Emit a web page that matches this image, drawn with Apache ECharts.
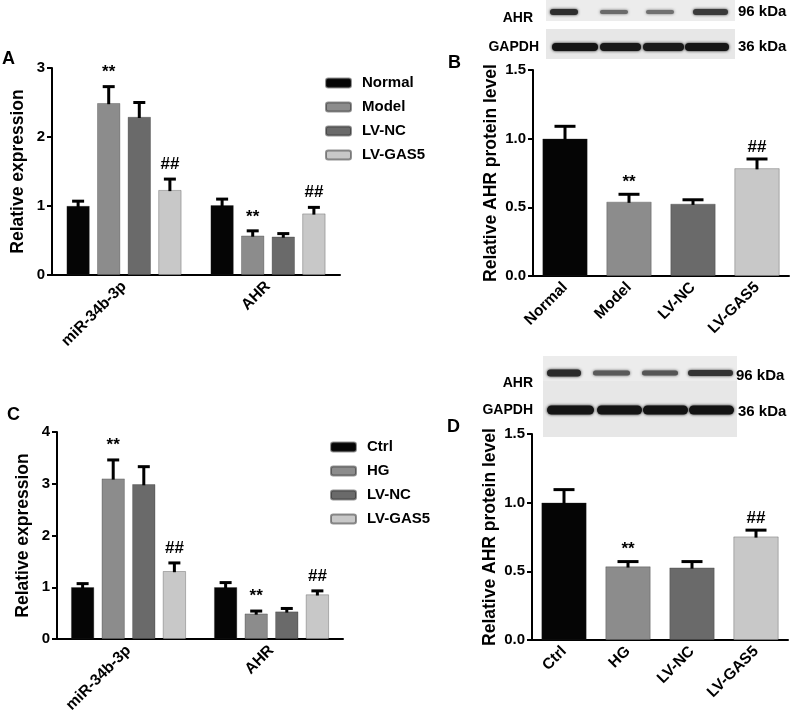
<!DOCTYPE html>
<html>
<head>
<meta charset="utf-8">
<script src="https://cdn.jsdelivr.net/npm/echarts@6/dist/echarts.min.js"></script>
<style>html,body{margin:0;padding:0;background:#fff;}#c{width:800px;height:717px;}</style>
</head>
<body>
<div id="c"></div>
<script>
// ---------- DATA ----------
const groupCats = ['miR-34b-3p', 'AHR'];

// Panel A
const aNames = ['Normal', 'Model', 'LV-NC', 'LV-GAS5'];
const aNormal = [1.00, 1.01];
const aModel = [2.49, 0.57];
const aLVNC = [2.29, 0.555];
const aLVGAS5 = [1.23, 0.89];
const aNormalSD = [0.07, 0.09];
const aModelSD = [0.24, 0.07];
const aLVNCSD = [0.21, 0.045];
const aLVGAS5SD = [0.16, 0.09];
const aModelMarks = ['**', '**'];
const aLVGAS5Marks = ['##', '##'];
const aTicks = [0, 1, 2, 3];

// Panel B
const bCats = ['Normal', 'Model', 'LV-NC', 'LV-GAS5'];
const bMean = [1.00, 0.54, 0.525, 0.784];
const bSD = [0.09, 0.055, 0.03, 0.068];
const bMarks = ['', '**', '', '##'];
const bTicks = [0.0, 0.5, 1.0, 1.5];

// Panel C
const cNames = ['Ctrl', 'HG', 'LV-NC', 'LV-GAS5'];
const cCtrl = [1.00, 1.00];
const cHG = [3.10, 0.49];
const cLVNC = [2.99, 0.53];
const cLVGAS5 = [1.31, 0.86];
const cCtrlSD = [0.07, 0.09];
const cHGSD = [0.36, 0.05];
const cLVNCSD = [0.34, 0.06];
const cLVGAS5SD = [0.16, 0.07];
const cHGMarks = ['**', '**'];
const cLVGAS5Marks = ['##', '##'];
const cTicks = [0, 1, 2, 3, 4];

// Panel D
const dCats = ['Ctrl', 'HG', 'LV-NC', 'LV-GAS5'];
const dMean = [1.00, 0.535, 0.527, 0.753];
const dSD = [0.095, 0.036, 0.044, 0.047];
const dMarks = ['', '**', '', '##'];
const dTicks = [0.0, 0.5, 1.0, 1.5];

// ---------- STYLE ----------
const FONT = '"Liberation Sans", Arial, Helvetica, sans-serif';
const barColors = ['#050505', '#8c8c8c', '#6a6a6a', '#c8c8c8'];

const chart = echarts.init(document.getElementById('c'), null, {renderer: 'canvas'});

function xAxisCfg(gridIndex, data) {
  return {
    type: 'category', gridIndex, data,
    axisLine: {lineStyle: {color: '#000', width: 2}},
    axisTick: {alignWithLabel: true, length: 5, lineStyle: {color: '#000', width: 2}},
    axisLabel: {rotate: 45, interval: 0, color: '#000', fontWeight: 'bold', fontSize: 15.5, fontFamily: FONT, margin: 9}
  };
}
function yAxisCfg(gridIndex, ticks, name, nameGap, decimals) {
  return {
    type: 'value', gridIndex,
    min: ticks[0], max: ticks[ticks.length - 1], interval: ticks[1] - ticks[0],
    name, nameLocation: 'middle', nameGap, nameRotate: 90,
    nameTextStyle: {color: '#000', fontWeight: 'bold', fontSize: 17.5, fontFamily: FONT},
    axisLine: {show: true, lineStyle: {color: '#000', width: 2}},
    axisTick: {show: true, length: 5, lineStyle: {color: '#000', width: 2}},
    splitLine: {show: false},
    axisLabel: {color: '#000', fontWeight: 'bold', fontSize: 15, fontFamily: FONT, margin: 7,
      formatter: v => v.toFixed(decimals)}
  };
}

function groupedErr(axisIdx, means, sds, marks, idx, barW, step, capW, markGap) {
  return {
    type: 'custom', xAxisIndex: axisIdx, yAxisIndex: axisIdx, z: 5, silent: true,
    data: means.map((m, i) => [i, m, sds[i]]),
    renderItem: function (params, api) {
      const cat = api.value(0), m = api.value(1), sd = api.value(2);
      const p0 = api.coord([cat, m]);
      const p1 = api.coord([cat, m + sd]);
      const x = p0[0] + (idx - 1.5) * step;
      const children = [
        {type: 'line', shape: {x1: x, y1: p0[1] + 1, x2: x, y2: p1[1]}, style: {stroke: '#000', lineWidth: 3}},
        {type: 'line', shape: {x1: x - capW / 2, y1: p1[1], x2: x + capW / 2, y2: p1[1]}, style: {stroke: '#000', lineWidth: 3}}
      ];
      const mk = marks ? marks[params.dataIndex] : '';
      if (mk) {
        children.push({type: 'text', x: x, y: p1[1] - markGap,
          style: {text: mk, fill: '#000', font: 'bold 17px ' + FONT, align: 'center', verticalAlign: 'middle'}});
      }
      return {type: 'group', children};
    }
  };
}
function singleErr(axisIdx, means, sds, marks, capW, markGap) {
  return {
    type: 'custom', xAxisIndex: axisIdx, yAxisIndex: axisIdx, z: 5, silent: true,
    data: means.map((m, i) => [i, m, sds[i]]),
    renderItem: function (params, api) {
      const cat = api.value(0), m = api.value(1), sd = api.value(2);
      const p0 = api.coord([cat, m]);
      const p1 = api.coord([cat, m + sd]);
      const x = p0[0];
      const children = [
        {type: 'line', shape: {x1: x, y1: p0[1] + 1, x2: x, y2: p1[1]}, style: {stroke: '#000', lineWidth: 3}},
        {type: 'line', shape: {x1: x - capW / 2, y1: p1[1], x2: x + capW / 2, y2: p1[1]}, style: {stroke: '#000', lineWidth: 3}}
      ];
      const mk = marks[params.dataIndex];
      if (mk) {
        children.push({type: 'text', x: x, y: p1[1] - markGap,
          style: {text: mk, fill: '#000', font: 'bold 17px ' + FONT, align: 'center', verticalAlign: 'middle'}});
      }
      return {type: 'group', children};
    }
  };
}

const GB = 23, GGAP = '33%', GSTEP = 23 * 1.33;
function gBar(axisIdx, name, data, ci) {
  return {type: 'bar', name, xAxisIndex: axisIdx, yAxisIndex: axisIdx, data,
    barWidth: GB, barGap: GGAP, itemStyle: {color: barColors[ci], borderColor: 'rgba(40,40,40,0.5)', borderWidth: 0.6}};
}
function sBar(axisIdx, data) {
  return {type: 'bar', xAxisIndex: axisIdx, yAxisIndex: axisIdx, barWidth: 45,
    data: data.map((v, i) => ({value: v, itemStyle: {color: barColors[i], borderColor: 'rgba(40,40,40,0.5)', borderWidth: 0.6}}))};
}

// ---------- blot decorations ----------
function blot(x0, x1, yA0, yA1, yG0, yG1, ahrBands, gBands, ahrY, gY) {
  const els = [];
  els.push({type: 'rect', shape: {x: x0, y: yA0, width: x1 - x0, height: yA1 - yA0}, style: {fill: '#ececec'}, z: 0});
  els.push({type: 'rect', shape: {x: x0, y: yG0, width: x1 - x0, height: yG1 - yG0}, style: {fill: '#e7e7e7'}, z: 0});
  ahrBands.forEach(b => els.push({type: 'rect', shape: {x: b[0], y: ahrY - b[2] / 2, width: b[1] - b[0], height: b[2], r: b[2] / 2},
    style: {fill: b[3], shadowBlur: 3, shadowColor: b[3]}, z: 1}));
  gBands.forEach(b => els.push({type: 'rect', shape: {x: b[0], y: gY - b[2] / 2, width: b[1] - b[0], height: b[2], r: b[2] / 2},
    style: {fill: b[3], shadowBlur: 3, shadowColor: b[3]}, z: 1}));
  return els;
}
function txt(x, y, s, size, align) {
  return {type: 'text', x, y, z: 3, style: {text: s, fill: '#000', font: 'bold ' + size + 'px ' + FONT, align: align || 'left', verticalAlign: 'middle'}};
}

const graphics = [].concat(
  blot(546, 735, 0, 21, 29, 59,
    [[550, 578, 6, '#2e2e2e'], [600, 628, 4, '#6a6a6a'], [646, 674, 4, '#707070'], [693, 728, 6, '#3a3a3a']],
    [[552, 598, 8, '#151515'], [600, 641, 8, '#181818'], [643, 684, 8, '#1a1a1a'], [685, 729, 8, '#151515']],
    12, 47),
  blot(543, 737, 356, 381, 381, 437,
    [[547, 581, 7, '#2a2a2a'], [593, 630, 5, '#5a5a5a'], [642, 678, 5, '#555555'], [688, 733, 6, '#333333']],
    [[547, 594, 9, '#151515'], [597, 642, 9, '#151515'], [643, 688, 9, '#131313'], [689, 734, 9, '#131313']],
    373, 410),
  [
    txt(533, 18, 'AHR', 14, 'right'), txt(539, 47, 'GAPDH', 14, 'right'),
    txt(738, 12, '96 kDa', 15), txt(738, 47, '36 kDa', 15),
    txt(533, 383, 'AHR', 14, 'right'), txt(533, 410, 'GAPDH', 14, 'right'),
    txt(736, 376, '96 kDa', 15), txt(738, 412, '36 kDa', 15),
    txt(2, 59, 'A', 18), txt(448, 63, 'B', 18), txt(7, 415, 'C', 18), txt(447, 427, 'D', 18)
  ]
);

const legendText = {color: '#000', fontWeight: 'bold', fontSize: 15, fontFamily: FONT, lineHeight: 16, padding: [0, 0, 0, 6]};

const option = {
  animation: false,
  backgroundColor: '#fff',
  grid: [
    {left: 52, top: 68, width: 288, height: 207},
    {left: 533, top: 70, width: 256, height: 206},
    {left: 57, top: 432, width: 286, height: 207},
    {left: 532, top: 434, width: 256, height: 206}
  ],
  xAxis: [xAxisCfg(0, groupCats), xAxisCfg(1, bCats), xAxisCfg(2, groupCats), xAxisCfg(3, dCats)],
  yAxis: [
    yAxisCfg(0, aTicks, 'Relative expression', 25, 0),
    yAxisCfg(1, bTicks, 'Relative AHR protein level', 33, 1),
    yAxisCfg(2, cTicks, 'Relative expression', 25, 0),
    yAxisCfg(3, dTicks, 'Relative AHR protein level', 33, 1)
  ],
  legend: [
    {data: aNames, orient: 'vertical', left: 325, top: 75, padding: 0, itemWidth: 25, itemHeight: 9, itemGap: 8,
      icon: 'roundRect', textStyle: legendText, selectedMode: false},
    {data: cNames.map(n => n === 'LV-NC' || n === 'LV-GAS5' ? n + ' ' : n), orient: 'vertical', left: 330, top: 439, padding: 0,
      itemWidth: 25, itemHeight: 9, itemGap: 8,
      icon: 'roundRect', textStyle: legendText, selectedMode: false,
      formatter: n => n.trim()}
  ],
  graphic: graphics,
  series: [
    gBar(0, aNames[0], aNormal, 0), gBar(0, aNames[1], aModel, 1), gBar(0, aNames[2], aLVNC, 2), gBar(0, aNames[3], aLVGAS5, 3),
    groupedErr(0, aNormal, aNormalSD, null, 0, GB, GSTEP, 12, 14),
    groupedErr(0, aModel, aModelSD, aModelMarks, 1, GB, GSTEP, 12, 14),
    groupedErr(0, aLVNC, aLVNCSD, null, 2, GB, GSTEP, 12, 14),
    groupedErr(0, aLVGAS5, aLVGAS5SD, aLVGAS5Marks, 3, GB, GSTEP, 12, 15),
    sBar(1, bMean),
    singleErr(1, bMean, bSD, bMarks, 21, 12),
    gBar(2, cNames[0], cCtrl, 0), gBar(2, cNames[1], cHG, 1), gBar(2, cNames[2] + ' ', cLVNC, 2), gBar(2, cNames[3] + ' ', cLVGAS5, 3),
    groupedErr(2, cCtrl, cCtrlSD, null, 0, GB, GSTEP, 12, 14),
    groupedErr(2, cHG, cHGSD, cHGMarks, 1, GB, GSTEP, 12, 15),
    groupedErr(2, cLVNC, cLVNCSD, null, 2, GB, GSTEP, 12, 14),
    groupedErr(2, cLVGAS5, cLVGAS5SD, cLVGAS5Marks, 3, GB, GSTEP, 12, 15),
    sBar(3, dMean),
    singleErr(3, dMean, dSD, dMarks, 21, 12)
  ]
};
chart.setOption(option);
</script>
</body>
</html>
